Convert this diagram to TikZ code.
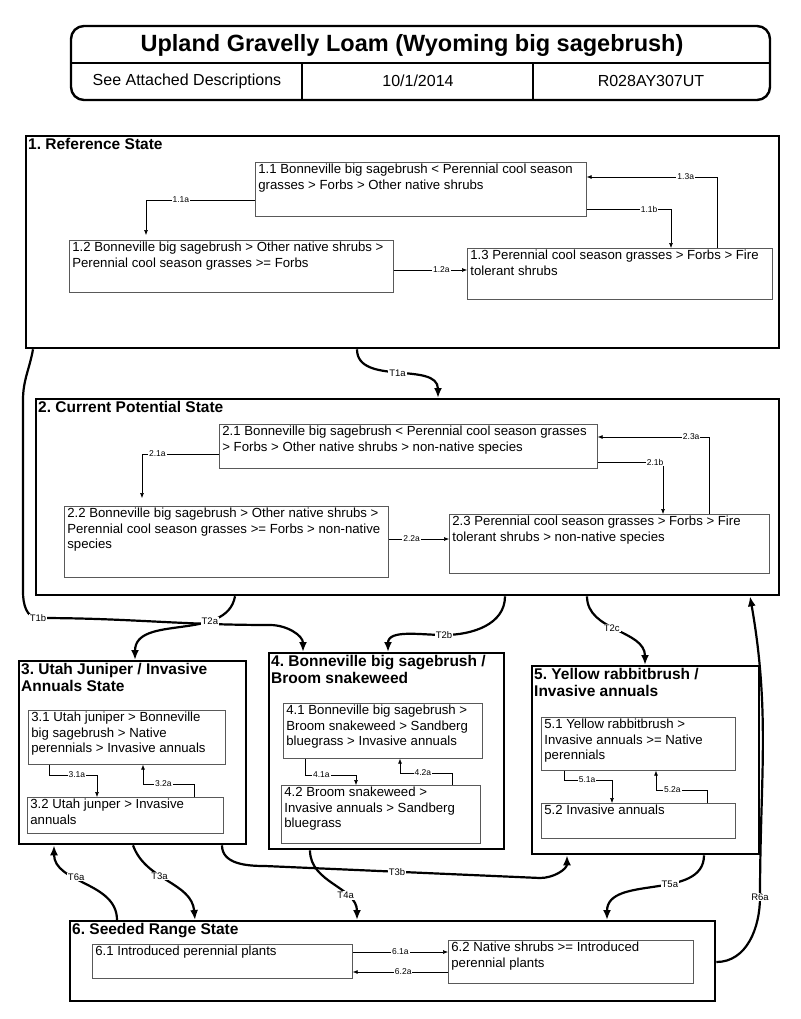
\documentclass[tikz,border=0pt]{standalone}
\usepackage{fontspec}
\setmainfont{Liberation Sans}
\usetikzlibrary{arrows.meta}
\frenchspacing
\newcommand{\cbox}[3]{\parbox[t][\dimexpr#2pt-4pt\relax][t]{\dimexpr#1pt-6pt\relax}{#3}}

\begin{document}
\begin{tikzpicture}[
   x=1pt,y=-1pt,
   header/.style={draw,line width=2.4pt,rounded corners=13pt},
   state/.style={draw,line width=2.3pt,anchor=north west,inner sep=0pt},
   stitle/.style={anchor=north west,font=\fontsize{15.5}{17}\selectfont\bfseries,inner sep=3pt,align=left},
   comm/.style={draw=black!65,line width=0.7pt,anchor=north west,inner xsep=3pt,inner ysep=2pt,font=\fontsize{13.2}{15.5}\selectfont},
   pw/.style={-{Latex[length=5pt,width=4pt]},line width=0.6pt},
   plbl/.style={font=\fontsize{8.5}{9}\selectfont,fill=white,inner sep=1pt},
   tr/.style={-{Latex[length=10pt,width=8pt]},line width=2.2pt},
   tlbl/.style={font=\fontsize{9.5}{10}\selectfont,fill=white,inner sep=1pt}]

\useasboundingbox (0,0) rectangle (800,1019);

% header
\draw[header] (71,26) rectangle (770,100);
\draw[line width=1.8pt] (71,63) -- (770,63);
\draw[line width=1.8pt] (302,63) -- (302,100);
\draw[line width=1.8pt] (533,63) -- (533,100);
\node[font=\fontsize{23.5}{26}\selectfont\bfseries] (hd) at (412,45) {Upland Gravelly Loam (Wyoming big sagebrush)};
\node[font=\fontsize{16}{18}\selectfont] (desc) at (187,81) {See Attached Descriptions};
\node[font=\fontsize{16}{18}\selectfont] (date) at (418,81) {10/1/2014};
\node[font=\fontsize{16}{18}\selectfont] (id) at (651,81) {R028AY307UT};

% states
\node[state,minimum width=753pt,minimum height=212pt] (s1) at (25,135) {};
\node[state,minimum width=743pt,minimum height=196pt] (s2) at (35,398) {};
\node[state,minimum width=227pt,minimum height=183pt] (s3) at (18,660) {};
\node[state,minimum width=235pt,minimum height=196pt] (s4) at (268,652) {};
\node[state,minimum width=227pt,minimum height=188pt] (s5) at (531,665) {};
\node[state,minimum width=645pt,minimum height=80pt] (s6) at (69,920) {};

\node[stitle] (t1) at (s1.north west) {1. Reference State};
\node[stitle] (t2) at (s2.north west) {2. Current Potential State};
\node[stitle] (t3) at (s3.north west) {3. Utah Juniper / Invasive\\Annuals State};
\node[stitle] (t4) at (s4.north west) {4. Bonneville big sagebrush /\\Broom snakeweed};
\node[stitle] (t5) at (s5.north west) {5. Yellow rabbitbrush /\\Invasive annuals};
\node[stitle] (t6) at (s6.north west) {6. Seeded Range State};

% community phases
\node[comm] (c11) at (255,162) {\cbox{331}{54}{1.1 Bonneville big sagebrush < Perennial cool season\\grasses > Forbs > Other native shrubs}};
\node[comm] (c12) at (69,240) {\cbox{324}{52}{1.2 Bonneville big sagebrush > Other native shrubs >\\Perennial cool season grasses >= Forbs}};
\node[comm] (c13) at (467,248) {\cbox{305}{51}{1.3 Perennial cool season grasses > Forbs > Fire\\tolerant shrubs}};
\node[comm] (c21) at (219,424) {\cbox{378}{44}{2.1 Bonneville big sagebrush < Perennial cool season grasses\\> Forbs > Other native shrubs > non-native species}};
\node[comm] (c22) at (64,506) {\cbox{324}{71}{2.2 Bonneville big sagebrush > Other native shrubs >\\Perennial cool season grasses >= Forbs > non-native\\species}};
\node[comm] (c23) at (449,514) {\cbox{320}{59}{2.3 Perennial cool season grasses > Forbs > Fire\\tolerant shrubs > non-native species}};
\node[comm] (c31) at (28,710) {\cbox{197}{54}{3.1 Utah juniper > Bonneville\\big sagebrush > Native\\perennials > Invasive annuals}};
\node[comm] (c32) at (27,797) {\cbox{196}{36}{3.2 Utah junper > Invasive\\annuals}};
\node[comm] (c41) at (283,703) {\cbox{199}{55}{4.1 Bonneville big sagebrush >\\Broom snakeweed > Sandberg\\bluegrass > Invasive annuals}};
\node[comm] (c42) at (281,785) {\cbox{199}{58}{4.2 Broom snakeweed >\\Invasive annuals > Sandberg\\bluegrass}};
\node[comm] (c51) at (541,717) {\cbox{194}{53}{5.1 Yellow rabbitbrush >\\Invasive annuals >= Native\\perennials}};
\node[comm] (c52) at (541,803) {\cbox{194}{35}{5.2 Invasive annuals}};
\node[comm] (c61) at (92,944) {\cbox{260}{34}{6.1 Introduced perennial plants}};
\node[comm] (c62) at (448,940) {\cbox{245}{43}{6.2 Native shrubs >= Introduced\\perennial plants}};

% community pathways
\draw[pw,shorten >=5pt] (c11.west |- 0,200) -| node[plbl,pos=0.34]{1.1a} (146,0 |- c12.north);
\draw[pw] (c11.east |- 0,209) -| node[plbl,pos=0.37]{1.1b} (671,0 |- c13.north);
\draw[pw] (717,0 |- c13.north) |- node[plbl,pos=0.62]{1.3a} (c11.east |- 0,177);
\draw[pw] (c12.east |- 0,270) -- node[plbl,pos=0.65]{1.2a} (c13.west |- 0,270);
\draw[pw,shorten >=8pt] (c21.west |- 0,454) -| node[plbl,pos=0.4]{2.1a} (142,0 |- c22.north);
\draw[pw] (c21.east |- 0,462) -| node[plbl,pos=0.44]{2.1b} (663,0 |- c23.north);
\draw[pw] (709,0 |- c23.north) |- node[plbl,pos=0.58]{2.3a} (c21.east |- 0,437);
\draw[pw] (c22.east |- 0,539) -- node[plbl,pos=0.38]{2.2a} (c23.west |- 0,539);
\draw[pw] (49,0 |- c31.south) |- node[plbl,pos=0.79]{3.1a} (97,775) -- (97,0 |- c32.north);
\draw[pw] (194,0 |- c32.north) |- node[plbl,pos=0.8]{3.2a} (143,784) -- (143,0 |- c31.south);
\draw[pw] (305,0 |- c41.south) |- node[plbl,pos=0.66]{4.1a} (356,775) -- (356,0 |- c42.north);
\draw[pw] (452,0 |- c42.north) |- node[plbl,pos=0.78]{4.2a} (400,773) -- (400,0 |- c41.south);
\draw[pw] (564,0 |- c51.south) |- node[plbl,pos=0.74]{5.1a} (612,780) -- (612,0 |- c52.north);
\draw[pw] (707,0 |- c52.north) |- node[plbl,pos=0.84]{5.2a} (656,790) -- (656,0 |- c51.south);
\draw[pw] (c61.east |- 0,952) -- node[plbl]{6.1a} (c62.west |- 0,952);
\draw[pw] (c62.west |- 0,972) -- node[plbl,pos=0.47]{6.2a} (c61.east |- 0,972);

% transitions
\draw[tr] (357,0 |- s1.south) to[out=-90,in=90] node[tlbl]{T1a} (438,0 |- s2.north);
\draw[tr] (33,0 |- s1.south) to[out=-100,in=90] (23,400) -- (23,592) to[out=-90,in=180] (38,618) node[tlbl]{T1b} to[out=0,in=180] (270,625) to[out=0,in=90] (303,0 |- s4.north);
\draw[tr] (235,0 |- s2.south) to[out=-100,in=90] node[tlbl,pos=0.3]{T2a} (135,0 |- s3.north);
\draw[tr] (505,0 |- s2.south) to[out=-90,in=0] (444,635) node[tlbl]{T2b} to[out=180,in=90] (388,0 |- s4.north);
\draw[tr] (587,0 |- s2.south) to[out=-90,in=90] node[tlbl,pos=0.45]{T2c} (645,0 |- s5.north);
\draw[tr] (117,0 |- s6.north) to[out=90,in=-90] node[tlbl,pos=0.6]{T6a} (54,0 |- s3.south);
\draw[tr] (133,0 |- s3.south) to[out=-70,in=95] node[tlbl,pos=0.4]{T3a} (195,0 |- s6.north);
\draw[tr] (222,0 |- s3.south) to[out=-90,in=180] (265,866) -- node[tlbl,pos=0.48]{T3b} (540,878) to[out=0,in=-90] (567,0 |- s5.south);
\draw[tr] (310,0 |- s4.south) to[out=-90,in=90] node[tlbl,pos=0.68]{T4a} (357,0 |- s6.north);
\draw[tr] (704,0 |- s5.south) to[out=-90,in=90] node[tlbl,pos=0.4]{T5a} (607,0 |- s6.north);
\draw[tr] (s6.east |- 0,962) to[out=0,in=-90] (760,897) node[tlbl]{R6a} to[out=90,in=-80] (750,0 |- s2.south);
\end{tikzpicture}
\end{document}
